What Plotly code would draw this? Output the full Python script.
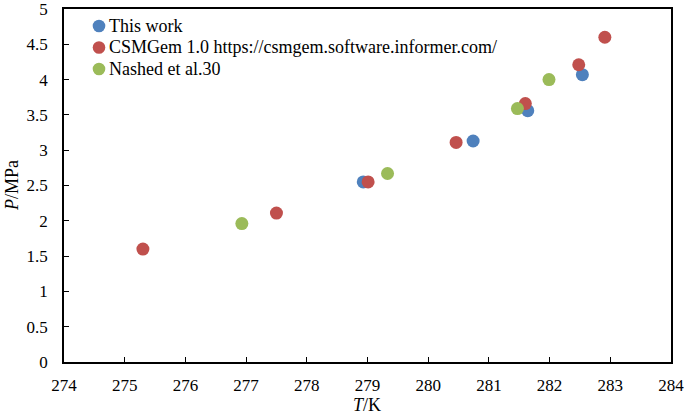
import plotly.graph_objects as go

# T (K) and P (MPa)
this_work_T = [278.93, 280.74, 281.64, 282.54]
this_work_P = [2.55, 3.13, 3.56, 4.07]

csmgem_T = [275.30, 277.50, 279.01, 280.46, 281.60, 282.48, 282.91]
csmgem_P = [1.60, 2.11, 2.55, 3.11, 3.66, 4.21, 4.60]

nashed_T = [276.93, 279.33, 281.47, 281.99]
nashed_P = [1.96, 2.67, 3.59, 4.00]

x_ticks = list(range(274, 285))
y_ticks = [0, 0.5, 1, 1.5, 2, 2.5, 3, 3.5, 4, 4.5, 5]

font = "Liberation Serif, Times New Roman, serif"

series = [
    ("This work", this_work_T, this_work_P, "#4F81BD"),
    ("CSMGem 1.0 https://csmgem.software.informer.com/", csmgem_T, csmgem_P, "#C0504D"),
    ("Nashed et al.30", nashed_T, nashed_P, "#9BBB59"),
]

fig = go.Figure()
for name, xs, ys, color in series:
    fig.add_trace(go.Scatter(x=xs, y=ys, mode="markers", name=name,
                             marker=dict(color=color, size=13, line=dict(width=0))))

# legend drawn by hand so the marker sits close to its label, as in the original
W, H = 685, 417
ml, mr, mt, mb = 64, 14, 9, 55
pw, ph = W - ml - mr, H - mt - mb
for i, (name, _, _, color) in enumerate(series):
    cy = 26 + i * 21.5
    yp = 1 - (cy - mt) / ph
    xp = (99 - ml) / pw
    rx, ry = 6.3 / pw, 6.3 / ph
    fig.add_shape(type="circle", xref="paper", yref="paper", x0=xp - rx, x1=xp + rx, y0=yp - ry, y1=yp + ry,
                  fillcolor=color, line=dict(width=0))
    fig.add_annotation(xref="paper", yref="paper", x=(107 - ml) / pw, y=yp, xanchor="left", yanchor="middle",
                       text=name, showarrow=False, font=dict(family=font, size=18, color="black"))

fig.add_annotation(xref="paper", yref="paper", x=(367 - ml) / pw, y=1 - (405 - mt) / ph, text="<i>T</i>/K",
                   showarrow=False, xanchor="center", yanchor="middle", font=dict(family=font, size=18))
fig.add_annotation(xref="paper", yref="paper", x=(12 - ml) / pw, y=1 - (185 - mt) / ph, text="<i>P</i>/MPa",
                   textangle=-90, showarrow=False, xanchor="center", yanchor="middle", font=dict(family=font, size=18))

axis_common = dict(showgrid=False, zeroline=False, showline=True, linecolor="black", linewidth=1.5,
                   mirror=True, ticks="inside", ticklen=5, tickcolor="black", automargin=False,
                   ticklabeloverflow="allow", tickfont=dict(family=font, size=17, color="black"))
fig.update_layout(
    width=W, height=H,
    margin=dict(l=ml, r=mr, t=mt, b=mb, autoexpand=False),
    paper_bgcolor="white", plot_bgcolor="white",
    font=dict(family=font, size=17, color="black"),
    xaxis=dict(range=[274, 284], tickvals=x_ticks, ticklabelstandoff=7, **axis_common),
    yaxis=dict(range=[0, 5], tickvals=y_ticks, ticktext=[f"{v:g}" for v in y_ticks],
               ticklabelstandoff=11, **axis_common),
    showlegend=False,
)
# the page body has a default 8px margin; drop it so the figure sits at the window's corner
fig.write_html("out.html", config={"displayModeBar": False},
               post_script="document.body.style.margin='0';")
